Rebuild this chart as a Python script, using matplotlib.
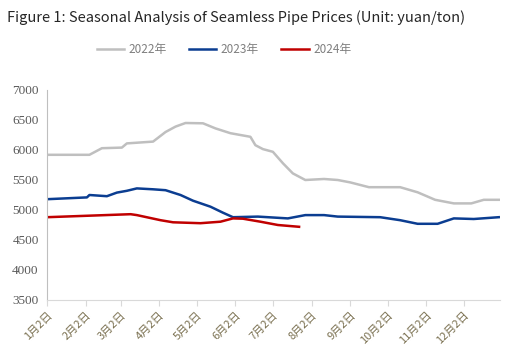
import matplotlib
matplotlib.use("Agg")
import matplotlib.pyplot as plt

plt.rcParams['font.family'] = ['Noto Sans CJK SC', 'DejaVu Sans']

# day-of-year positions (Jan 1 = 1) and prices, yuan/ton
days_2022 = [2, 36, 46, 62, 66, 87, 97, 105, 113, 127, 137, 149, 165, 169, 175, 183,
             191, 199, 209, 224, 235, 245, 260, 285, 299, 313, 328, 342, 352, 364]
price_2022 = [5920, 5920, 6030, 6040, 6110, 6140, 6300, 6390, 6450, 6445, 6360, 6280,
              6220, 6080, 6015, 5970, 5780, 5610, 5500, 5517, 5500, 5460, 5380, 5380,
              5295, 5170, 5110, 5110, 5170, 5170]

days_2023 = [2, 34, 36, 50, 58, 66, 74, 87, 97, 109, 119, 133, 143, 151, 171, 195,
             209, 224, 235, 269, 285, 299, 315, 328, 344, 364]
price_2023 = [5180, 5210, 5250, 5230, 5290, 5320, 5360, 5345, 5330, 5250, 5155, 5055,
              4955, 4880, 4890, 4860, 4915, 4915, 4890, 4880, 4830, 4770, 4770, 4860,
              4850, 4880]

days_2024 = [2, 69, 74, 93, 103, 125, 141, 151, 159, 173, 187, 204]
price_2024 = [4880, 4930, 4915, 4830, 4795, 4780, 4805, 4860, 4855, 4805, 4750, 4720]

tick_days = [2, 33, 61, 92, 122, 153, 183, 214, 245, 275, 306, 336]
tick_labels = [str(m) + '月2日' for m in range(1, 13)]

fig = plt.figure(figsize=(5.14, 3.6), dpi=100)
ax = fig.add_axes([47/514, 1 - 300/360, 453/514, 210/360])

ax.plot(days_2022, price_2022, color='#bfbfbf', lw=1.8, label='2022年')
ax.plot(days_2023, price_2023, color='#0b3d91', lw=1.8, label='2023年')
ax.plot(days_2024, price_2024, color='#c00000', lw=1.8, label='2024年')

ax.set_xlim(2, 365)
ax.set_ylim(3500, 7000)
ax.set_yticks(range(3500, 7001, 500))
ax.set_xticks(tick_days)
ax.set_xticklabels(tick_labels, rotation=45, ha='right', rotation_mode='anchor',
                   color='#7a7050', fontsize=8)
for lab in ax.get_yticklabels():
    lab.set_fontfamily('Liberation Serif')
    lab.set_fontsize(9.5)
    lab.set_color('#595959')

for s in ['top', 'right']:
    ax.spines[s].set_visible(False)
ax.spines['left'].set_color('#bfbfbf')
ax.spines['bottom'].set_color('#d9d9d9')
ax.tick_params(axis='y', length=0, pad=6)
ax.tick_params(axis='x', length=4, color='#d9d9d9', pad=3)

fig.text(7/514, 1 - 18/360, 'Figure 1: Seasonal Analysis of Seamless Pipe Prices (Unit: yuan/ton)',
         fontsize=10.5, color='#262626', va='center', ha='left')

leg = fig.legend(loc='center', bbox_to_anchor=(224/514, 1 - 50/360), ncol=3, frameon=False,
                 fontsize=8.5, handlelength=2.3, columnspacing=1.9, handletextpad=0.4)
for t in leg.get_texts():
    t.set_color('#7f7f7f')

fig.savefig('out.png', dpi=100)
